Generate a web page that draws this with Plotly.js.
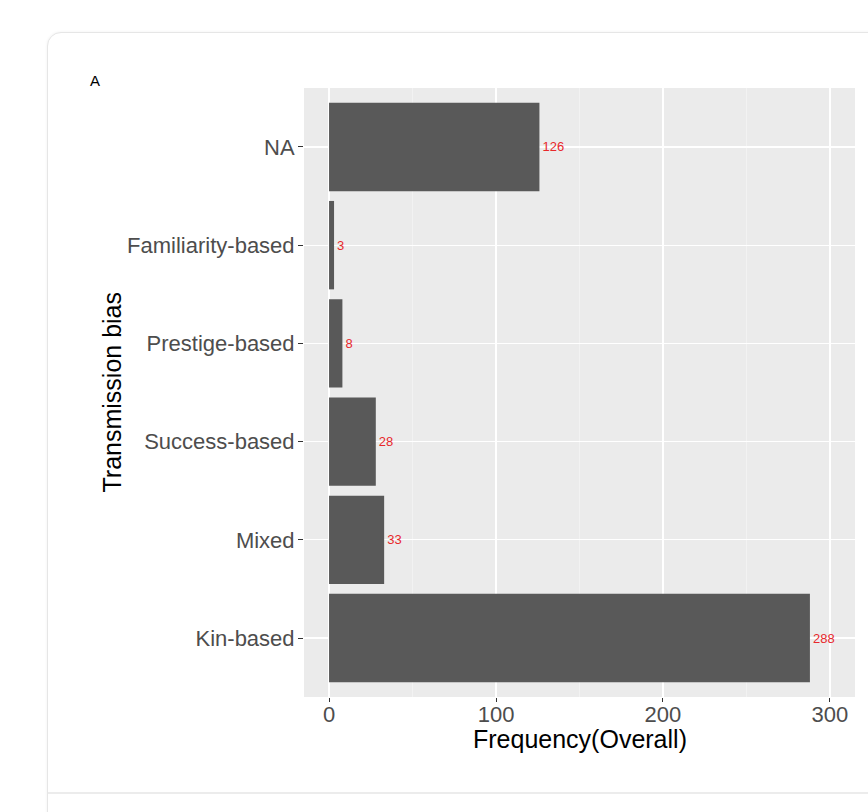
<!DOCTYPE html>
<html>
<head>
<meta charset="utf-8">
<script src="https://cdn.plot.ly/plotly-3.0.1.min.js"></script>
<style>
  html, body { margin: 0; padding: 0; background: #ffffff; width: 868px; height: 812px; overflow: hidden; }
  #card { position: absolute; left: 47px; top: 32px; width: 900px; height: 820px;
          border: 1px solid #e6e6e6; border-radius: 14px; background: #fff;
          box-shadow: 0 0 3px rgba(0,0,0,0.06); }
  #sep { position: absolute; left: 48px; top: 792px; width: 830px; height: 2px; background: #ececec; }
  #chart { position: absolute; left: 0; top: 0; width: 868px; height: 812px; }
</style>
</head>
<body>
<div id="card"></div>
<div id="sep"></div>
<div id="chart"></div>
<script>
const categories = ["Kin-based", "Mixed", "Success-based", "Prestige-based", "Familiarity-based", "NA"];
const frequencies = [288, 33, 28, 8, 3, 126];
const xTickValues = [0, 100, 200, 300];
const xTitle = 'Frequency(Overall)';
const yTitle = 'Transmission bias';
const panelLabel = 'A';

const W = 868, H = 812;
const plotL = 304, plotR = 855, plotT = 88, plotB = 697;
const pw = plotR - plotL, ph = plotB - plotT;
const px = v => (v - plotL) / pw;          // pixel x -> paper
const py = v => (plotB - v) / ph;          // pixel y -> paper

const trace = {
  type: 'bar',
  orientation: 'h',
  y: categories,
  x: frequencies,
  width: 0.9,
  marker: { color: '#595959', line: { width: 0 } },
  text: frequencies.map(String),
  textposition: 'outside',
  constraintext: 'none',
  cliponaxis: false,
  textfont: { family: 'Liberation Sans, Arial, sans-serif', size: 13, color: '#e8282b' },
  hoverinfo: 'skip'
};

const layout = {
  width: W, height: H,
  paper_bgcolor: 'rgba(0,0,0,0)',
  plot_bgcolor: '#EBEBEB',
  margin: { l: plotL, r: W - plotR, t: plotT, b: H - plotB, pad: 0 },
  showlegend: false,
  font: { family: 'Liberation Sans, Arial, sans-serif' },
  xaxis: {
    range: [-15, 315],
    tickvals: xTickValues,
    ticktext: xTickValues.map(String),
    showgrid: true, gridcolor: '#ffffff', gridwidth: 1.2,
    minor: { dtick: 50, tick0: 0, showgrid: true, gridcolor: '#f6f6f6', gridwidth: 0.6, ticks: '' },
    zeroline: false, showline: false,
    ticks: 'outside', ticklen: 4, tickwidth: 1, tickcolor: '#333333',
    ticklabelstandoff: -6,
    tickfont: { size: 22, color: '#4D4D4D' }
  },
  yaxis: {
    type: 'category',
    categoryorder: 'array', categoryarray: categories,
    range: [-0.6, 5.6],
    showgrid: true, gridcolor: '#ffffff', gridwidth: 1.2,
    zeroline: false, showline: false,
    ticks: 'outside', ticklen: 5, tickwidth: 1, tickcolor: '#333333',
    ticklabelstandoff: -1,
    tickfont: { size: 22, color: '#4D4D4D' }
  },
  annotations: [
    {
      text: panelLabel, xref: 'paper', yref: 'paper',
      x: px(95), y: py(80), xanchor: 'center', yanchor: 'middle', showarrow: false,
      font: { size: 15, color: '#000000' }
    },
    {
      text: xTitle, xref: 'paper', yref: 'paper',
      x: 0.5, y: py(739), xanchor: 'center', yanchor: 'middle', showarrow: false,
      font: { size: 25, color: '#000000' }
    },
    {
      text: yTitle, xref: 'paper', yref: 'paper', textangle: -90,
      x: px(111), y: 0.5, xanchor: 'center', yanchor: 'middle', showarrow: false,
      font: { size: 25, color: '#000000' }
    }
  ]
};

Plotly.newPlot('chart', [trace], layout, { staticPlot: true, displayModeBar: false });
</script>
</body>
</html>
